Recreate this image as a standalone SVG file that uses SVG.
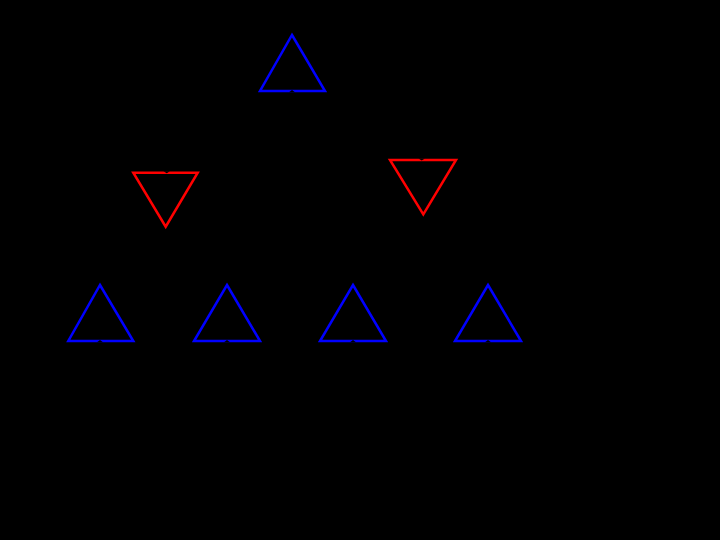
<svg xmlns="http://www.w3.org/2000/svg" width="720" height="540" viewBox="0 0 720 540">
<style>
.blue{fill:none;stroke:#0000ff;stroke-width:2.5;stroke-linejoin:miter}
.red{fill:none;stroke:#ff0000;stroke-width:2.5;stroke-linejoin:miter}
.notch{fill:#000}
.edge{stroke:#000;stroke-width:1;fill:none}
</style>
<rect x="0" y="0" width="720" height="540" fill="#000"/>
<g id="connectors">
<line class="edge" x1="292" y1="91" x2="166" y2="172.5"/>
<line class="edge" x1="292" y1="91" x2="422" y2="160"/>
<line class="edge" x1="165.5" y1="227" x2="100" y2="285"/>
<line class="edge" x1="165.5" y1="227" x2="227" y2="285"/>
<line class="edge" x1="423" y1="215" x2="353" y2="285"/>
<line class="edge" x1="423" y1="215" x2="488" y2="285"/>
</g>
<g id="n0"><polygon class="blue" points="292,35 325,91 260,91"/><polygon class="notch" points="289,92.3 292,90 295,92.3"/></g>
<g id="n1"><polygon class="red" points="133.3,172.7 197.7,172.7 165.7,226.7"/><polygon class="notch" points="163.5,171.2 166.7,173.2 169.9,171.2"/></g>
<g id="n2"><polygon class="red" points="390,160 456,160 423.3,214.3"/><polygon class="notch" points="418.5,158.5 421.7,160.5 424.9,158.5"/></g>
<g id="n3"><polygon class="blue" points="100,285 133.3,341 68.3,341"/><polygon class="notch" points="97,342.3 100,340 103,342.3"/></g>
<g id="n4"><polygon class="blue" points="227,285 260,341 194,341"/><polygon class="notch" points="224,342.3 227,340 230,342.3"/></g>
<g id="n5"><polygon class="blue" points="353,285 386,341 320,341"/><polygon class="notch" points="350,342.3 353,340 356,342.3"/></g>
<g id="n6"><polygon class="blue" points="488,285 521,341 455,341"/><polygon class="notch" points="485,342.3 488,340 491,342.3"/></g>
</svg>
